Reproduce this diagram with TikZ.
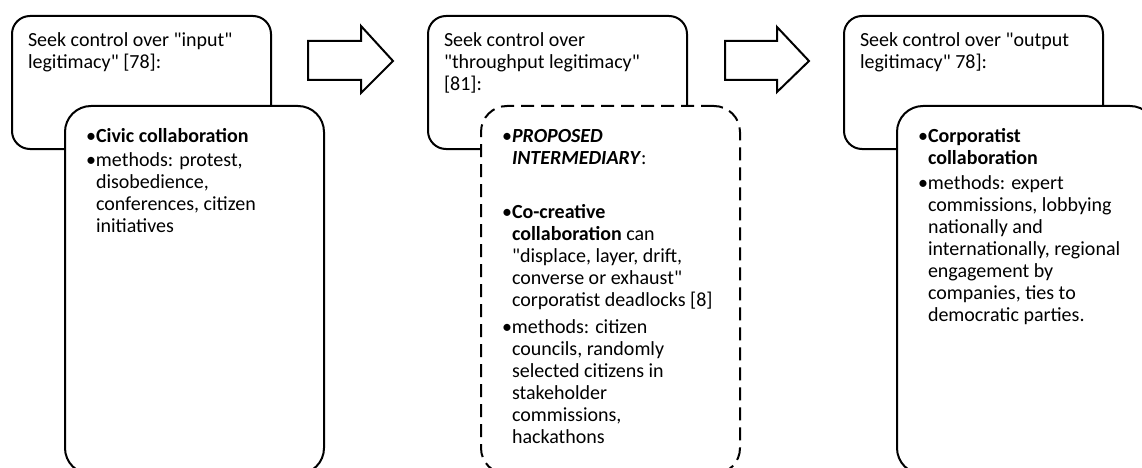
\documentclass[tikz,border=0pt]{standalone}
\usepackage{fontspec}
\newfontfamily\calibri{Carlito}
\usepackage{tikz}

\newcommand{\bulletitem}[1]{\par\hangindent=10pt\hangafter=1\noindent\makebox[10pt][l]{\textbullet}#1}

\begin{document}
\begin{tikzpicture}[x=1pt,y=-1pt,
    back/.style={draw, line width=2pt, rounded corners=18pt, anchor=north west,
      inner xsep=16pt, inner ysep=15.5pt, fill=white, font=\calibri\fontsize{20}{22}\selectfont},
    front/.style={back, rounded corners=26pt, inner xsep=21pt, inner ysep=21.5pt},
    proposal/.style={front, dash pattern=on 13pt off 7pt},
    blockarrow/.style={draw, line width=2pt, fill=white}]
  \clip (0,0) rectangle (1142,468);

  % stage 1: input legitimacy
  \node[back] (input) at (11,15) {\parbox[t][102pt][t]{227pt}{\strut
      Seek control over "input"\\ legitimacy" [78]:}};
  \node[front] (civic) at (64,105) {\parbox[t][325pt][t]{217pt}{\setlength{\parskip}{2pt}%
      \bulletitem{\strut\textbf{Civic collaboration}}
      \bulletitem{methods: protest,\\ disobedience,\\ conferences, citizen\\ initiatives}}};

  % stage 2: throughput legitimacy
  \node[back] (throughput) at (427,15) {\parbox[t][102pt][t]{227pt}{\strut
      Seek control over\\ "throughput legitimacy"\\ {[81]}:}};
  \node[proposal] (cocreative) at (480,105) {\parbox[t][325pt][t]{217pt}{\setlength{\parskip}{5pt}%
      \bulletitem{\strut\textbf{\textit{PROPOSED}}\\ \textbf{\textit{INTERMEDIARY}}:}
      \par\noindent\mbox{}
      \bulletitem{\textbf{Co-creative}\\ \textbf{collaboration} can\\ "displace, layer, drift,\\ converse or exhaust"\\ corporatist deadlocks [8]}
      \bulletitem{methods: citizen\\ councils, randomly\\ selected citizens in\\ stakeholder\\ commissions,\\ hackathons}}};

  % stage 3: output legitimacy
  \node[back] (output) at (843,15) {\parbox[t][102pt][t]{227pt}{\strut
      Seek control over "output\\ legitimacy" 78]:}};
  \node[front] (corporatist) at (896,105) {\parbox[t][325pt][t]{217pt}{\setlength{\parskip}{3pt}%
      \bulletitem{\strut\textbf{Corporatist}\\ \textbf{collaboration}}
      \bulletitem{methods: expert\\ commissions, lobbying\\ nationally and\\ internationally, regional\\ engagement by\\ companies, ties to\\ democratic parties.}}};

  % block arrows between the stages
  \draw[blockarrow] (308,41) -- (361,41) -- (361,26) -- (393,61) -- (361,93)
    -- (361,80) -- (308,80) -- cycle;
  \draw[blockarrow] (725,41) -- (777,41) -- (777,27) -- (809,61) -- (777,92)
    -- (777,80) -- (725,80) -- cycle;
\end{tikzpicture}
\end{document}
